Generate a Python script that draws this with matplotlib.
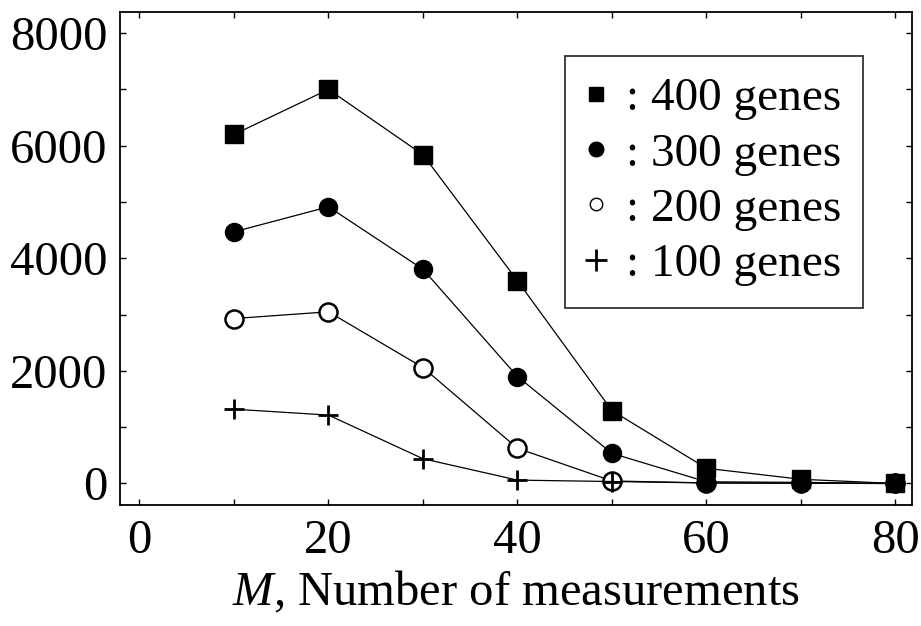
import matplotlib
matplotlib.use("Agg")
import matplotlib.pyplot as plt
from matplotlib.ticker import MultipleLocator
from matplotlib.lines import Line2D

plt.rcParams['font.family'] = ['Liberation Serif', 'DejaVu Serif']
plt.rcParams['mathtext.fontset'] = 'custom'
plt.rcParams['mathtext.rm'] = 'Liberation Serif'
plt.rcParams['mathtext.it'] = 'Liberation Serif:italic'

M = [10, 20, 30, 40, 50, 60, 70, 80]
genes400 = [6200, 7000, 5840, 3600, 1295, 270, 75, 0]
genes300 = [4470, 4915, 3805, 1900, 535, 30, 20, 0]
genes200 = [2930, 3050, 2060, 625, 45, 10, 5, 0]
genes100 = [1320, 1215, 440, 60, 35, 10, 5, 0]
labels = [": 400 genes", ": 300 genes", ": 200 genes", ": 100 genes"]

fig = plt.figure(figsize=(9.21, 6.26), dpi=100)
ax = fig.add_axes([120/921, 1-505/626, (912-120)/921, (505-12)/626])

lc = 'black'
lw = 0.9
ax.plot(M, genes100, color=lc, lw=lw, marker='+', ms=15, mew=2, zorder=3)
ax.plot(M, genes200, color=lc, lw=lw, marker='o', ms=13, mfc='white', mec='black', mew=1.8, zorder=2)
ax.plot(M, genes300, color=lc, lw=lw, marker='o', ms=13, mfc='black', mec='black', zorder=4)
ax.plot(M, genes400, color=lc, lw=lw, marker='s', ms=13.5, mfc='black', mec='black', zorder=5)

ax.set_xlim(-2.06, 81.75)
ax.set_ylim(-382, 8375)
ax.xaxis.set_major_locator(MultipleLocator(20))
ax.xaxis.set_minor_locator(MultipleLocator(10))
ax.yaxis.set_major_locator(MultipleLocator(2000))
ax.yaxis.set_minor_locator(MultipleLocator(1000))
ax.tick_params(which='both', direction='in', top=True, right=True,
               length=4, width=1.0, labelsize=35)
ax.tick_params(axis='y', pad=9)
ax.tick_params(axis='x', pad=10)
for s in ax.spines.values():
    s.set_linewidth(1.3)

ax.set_xlabel(r"$M$, Number of measurements", fontsize=35, labelpad=5)

handles = [
    Line2D([], [], ls='none', marker='s', ms=10.5, mfc='black', mec='black'),
    Line2D([], [], ls='none', marker='o', ms=10.5, mfc='black', mec='black'),
    Line2D([], [], ls='none', marker='o', ms=9, mfc='white', mec='black', mew=1.0),
    Line2D([], [], ls='none', marker='+', ms=16, mec='black', mew=2),
]
leg = ax.legend(handles, labels, loc='upper right', bbox_to_anchor=(863/921, 1-56/626),
                bbox_transform=fig.transFigure, fontsize=34, frameon=True, fancybox=False,
                edgecolor='black', handlelength=0.4, handletextpad=0.44,
                labelspacing=0.26, borderpad=0.45, borderaxespad=0)
leg.get_frame().set_linewidth(1.3)

fig.savefig("out.png", dpi=100)
